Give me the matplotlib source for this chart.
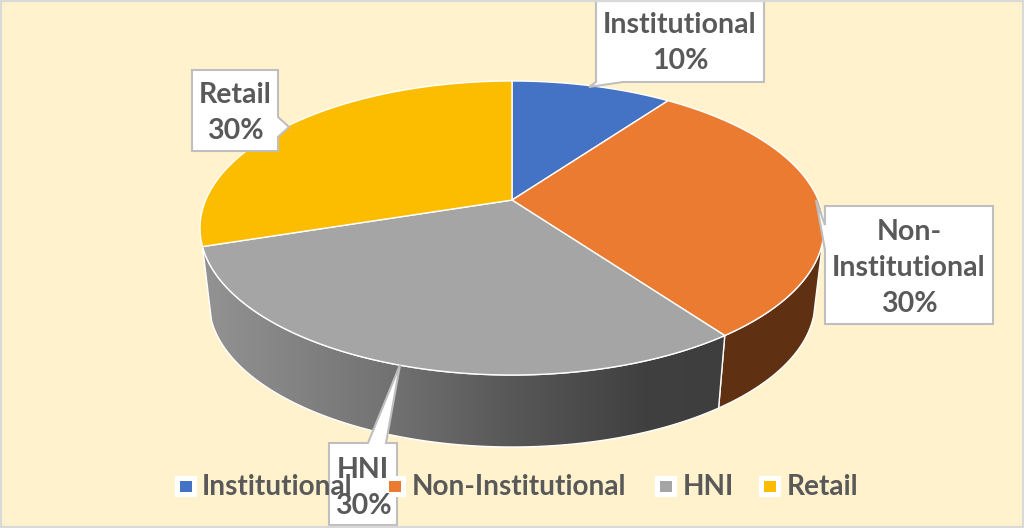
import numpy as np
import matplotlib
matplotlib.use('Agg')

import matplotlib.pyplot as plt
from matplotlib.colors import LinearSegmentedColormap
from matplotlib.patches import Polygon, Rectangle

categories = ['Institutional', 'Non-Institutional', 'HNI', 'Retail']
shares = [10, 30, 30, 30]
top_colors = ['#4472c4', '#eb7b30', '#a5a5a5', '#fcbd00']
text_color = '#595959'
callout_edge = '#bfbfbf'

# Text and outline of each callout, in picture pixels
callout_texts = ['Institutional\n10%', 'Non-\nInstitutional\n30%', 'HNI\n30%', 'Retail\n30%']
callout_centers = [(680, 43), (909, 268), (363, 488), (235, 113)]
callout_outlines = [
    [(596, 1), (764, 1), (764, 82), (623, 82), (589, 87), (596, 82)],
    [(825, 206), (993, 206), (993, 324), (825, 324), (825, 250), (816, 200), (825, 225)],
    [(329, 443), (368, 443), (400, 365), (386, 443), (397, 443), (397, 525), (329, 525)],
    [(192, 70), (278, 70), (278, 117), (289, 127), (278, 137), (278, 151), (192, 151)],
]
legend_marker_x = [180, 389, 660, 764]
legend_text_x = [202, 412, 683, 787]

# Pie geometry: the tilted disc is an ellipse, its centre point sits above the ellipse centre
cx, cy, rx, ry = 512, 228, 312, 147
bottom_cy, bottom_rx, bottom_ry = 302, 303, 145
apex_offset = 0.19


def rim_angle(theta):
    # perspective mapping from the flat disc to the tilted ellipse
    x, y = np.sin(theta), np.cos(theta)
    den = 1 + apex_offset * y
    return np.sqrt(1 - apex_offset ** 2) * x / den, (y + apex_offset) / den


def top_rim(theta):
    x, y = rim_angle(theta)
    return np.column_stack([cx + rx * x, cy - ry * y])


def bottom_rim(theta):
    x, y = rim_angle(theta)
    return np.column_stack([cx + bottom_rx * x, bottom_cy - bottom_ry * y])


plt.rcParams['font.family'] = ['Lato', 'DejaVu Sans']
fig = plt.figure(figsize=(10.24, 5.28), dpi=100, facecolor='#fff2cc')
ax = fig.add_axes([0, 0, 1, 1])
ax.axis('off')

edges = np.radians(np.concatenate([[0], np.cumsum(shares)]) * 3.6)
apex = (cx, cy - ry * apex_offset)

# Side walls, only the orange and grey slices show one
start = np.radians(106)
orange_t = np.linspace(start, edges[2], 80)
wall = np.vstack([top_rim(orange_t), bottom_rim(orange_t)[::-1]])
ax.add_patch(Polygon(wall, closed=True, facecolor='#5f3112', edgecolor='white', lw=1, zorder=2))

grey_t = np.linspace(edges[2], edges[3], 160)
wall = np.vstack([top_rim(grey_t), bottom_rim(grey_t)[::-1]])
grey_patch = Polygon(wall, closed=True, facecolor='none', edgecolor='white', lw=1, zorder=3)
ax.add_patch(grey_patch)
grey_map = LinearSegmentedColormap.from_list(
    'wall', [(0, '#939393'), (0.34, '#747474'), (0.6, '#575757'), (0.85, '#404040'), (1, '#3e3e3e')])
grad = ax.imshow(np.linspace(0, 1, 256).reshape(1, -1), cmap=grey_map, aspect='auto',
                 extent=(202, 724, 450, 240), zorder=2)
grad.set_clip_path(grey_patch)

# Top faces
for i, color in enumerate(top_colors):
    t = np.linspace(edges[i], edges[i + 1], 120)
    pts = np.vstack([[apex], top_rim(t)])
    ax.add_patch(Polygon(pts, closed=True, facecolor=color, edgecolor='white', lw=1, zorder=4))

# Callouts
for text, center, outline in zip(callout_texts, callout_centers, callout_outlines):
    ax.add_patch(Polygon(outline, closed=True, facecolor='white', edgecolor=callout_edge,
                         lw=1.5, zorder=5))
    ax.text(center[0], center[1], text, ha='center', va='center', color=text_color,
            fontsize=20.5, fontweight='bold', linespacing=1.5, zorder=7)

# Legend
for name, color, mx, tx in zip(categories, top_colors, legend_marker_x, legend_text_x):
    ax.add_patch(Rectangle((mx - 5, 476), 22, 21, facecolor='white', edgecolor='none', zorder=6))
    ax.add_patch(Rectangle((mx, 481), 12, 11, facecolor=color, edgecolor='none', zorder=6))
    ax.text(tx, 487, name, ha='left', va='center', color=text_color,
            fontsize=20.2, fontweight='bold', zorder=7)

# Thin frame round the picture
ax.add_patch(Rectangle((0, 0), 1024, 528, facecolor='none', edgecolor='#d9d9d9', lw=3, zorder=8))

ax.set_xlim(0, 1024)
ax.set_ylim(528, 0)
fig.savefig('out.png', dpi=100, facecolor=fig.get_facecolor())
plt.close(fig)
